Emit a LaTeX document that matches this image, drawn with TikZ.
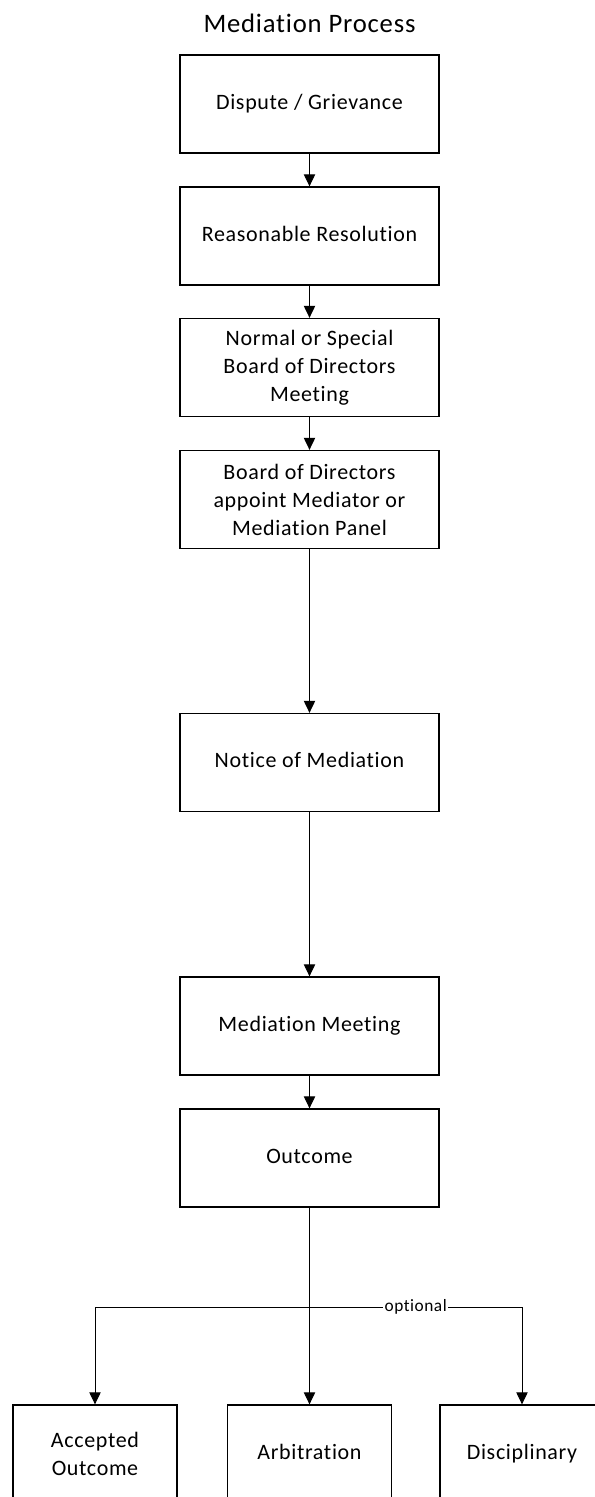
\documentclass[tikz,border=0pt]{standalone}
\usepackage{fontspec}
\setmainfont[Ligatures={NoCommon},LetterSpace=3]{Carlito}
\usetikzlibrary{arrows.meta}
\begin{document}
\begin{tikzpicture}[x=0.75pt,y=-0.75pt,
  box/.style={draw=black,line width=1pt,rectangle,minimum width=259*0.75pt,minimum height=98*0.75pt,
    align=center,inner sep=2pt,font=\fontsize{16.5}{21}\selectfont},
  smallbox/.style={box,minimum width=164*0.75pt},
  oneline/.style={text height=11pt,text depth=3.5pt},
  arr/.style={draw=black,line width=0.75pt,-{Triangle[width=8.5pt,length=9pt]}},
  lbl/.style={fill=white,inner sep=1pt,font=\fontsize{13}{14}\selectfont}]
\useasboundingbox (0,0) rectangle (594,1497);
\node[font=\fontsize{20}{24}\selectfont] (title) at (309.5,23) {Mediation Process};
\node[box,oneline] (b1) at (309.5,104) {Dispute / Grievance};
\node[box,oneline] (b2) at (309.5,236) {Reasonable Resolution};
\node[box] (b3) at (309.5,367.5) {Normal or Special\\Board of Directors\\Meeting};
\node[box] (b4) at (309.5,499.5) {Board of Directors\\appoint Mediator or\\Mediation Panel};
\node[box,oneline] (b5) at (309.5,762.5) {Notice of Mediation};
\node[box,oneline] (b6) at (309.5,1026) {Mediation Meeting};
\node[box,oneline] (b7) at (309.5,1158) {Outcome};
\node[smallbox] (acc) at (95,1454) {Accepted\\Outcome};
\node[smallbox,oneline] (arb) at (309.5,1454) {Arbitration};
\node[smallbox,oneline] (dis) at (522,1454) {Disciplinary};
\coordinate (j) at (309.5,1307);
\draw[arr] (b1) -- (b2);
\draw[arr] (b2) -- (b3);
\draw[arr] (b3) -- (b4);
\draw[arr] (b4) -- (b5);
\draw[arr] (b5) -- (b6);
\draw[arr] (b6) -- (b7);
\draw[arr] (j) -| (acc.north);
\draw[arr] (j) -| node[lbl,pos=0.25] {optional} (dis.north);
\draw[arr] (b7) -- (arb);
\end{tikzpicture}
\end{document}
